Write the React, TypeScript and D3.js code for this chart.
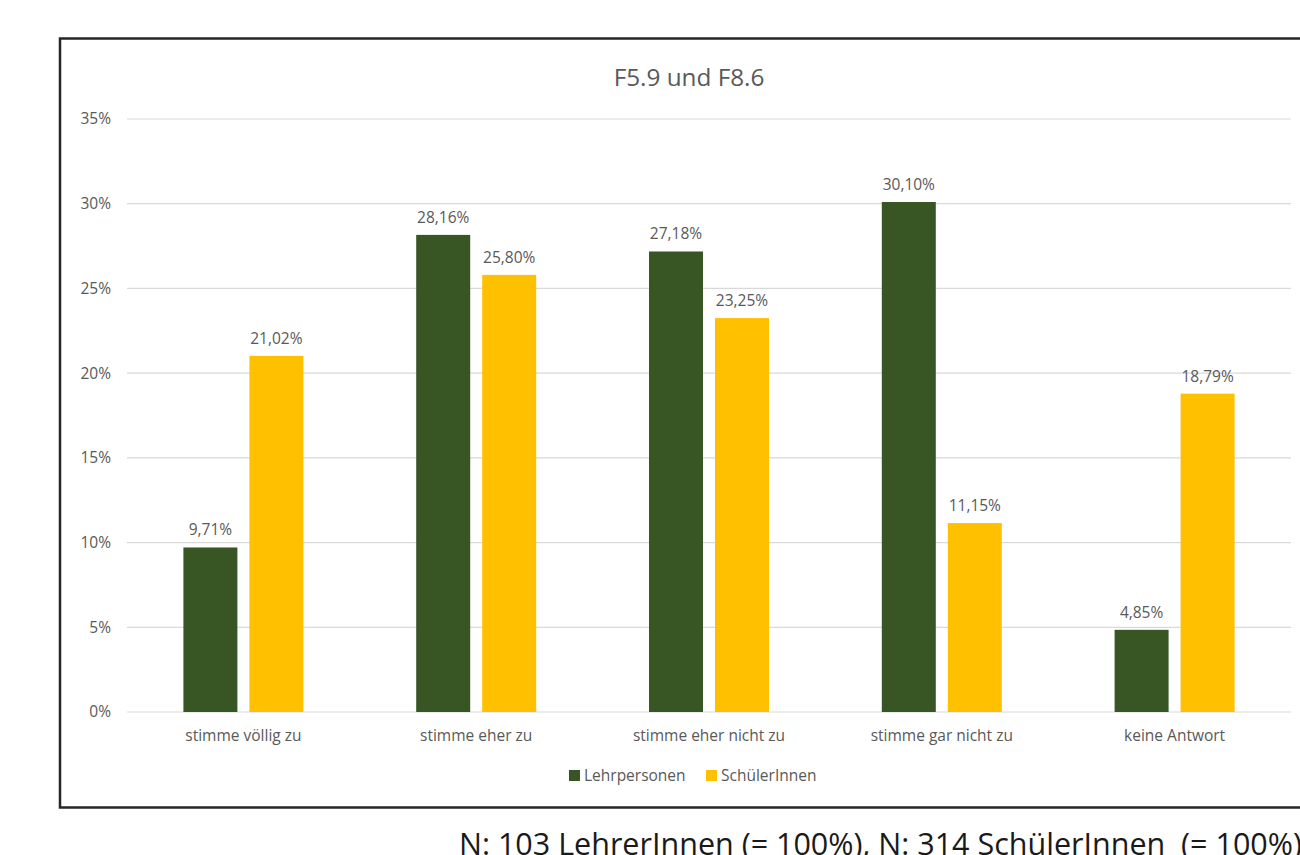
import React from "react";
import * as d3 from "d3";

const categories = [
  "stimme völlig zu",
  "stimme eher zu",
  "stimme eher nicht zu",
  "stimme gar nicht zu",
  "keine Antwort",
];
const seriesNames = ["Lehrpersonen", "SchülerInnen"];
const lehrpersonen = [9.71, 28.16, 27.18, 30.1, 4.85];
const schuelerInnen = [21.02, 25.8, 23.25, 11.15, 18.79];
const yTicks = [0, 5, 10, 15, 20, 25, 30, 35];
const colors = ["#375623", "#FFC000"];
const title = "F5.9 und F8.6";
const footnote = "N: 103 LehrerInnen (= 100%), N: 314 SchülerInnen  (= 100%)";

const W = 1300;
const H = 855;
const plotLeft = 127;
const plotRight = 1291;
const plotTop = 119;
const plotBottom = 712;
const font = "'Open Sans', 'Segoe UI', sans-serif";
const textColor = "#595959";

const fmt = (v: number) => v.toFixed(2).replace(".", ",") + "%";

export default function App() {
  const x0 = d3
    .scaleBand<string>()
    .domain(categories)
    .range([plotLeft, plotRight])
    .paddingInner(0)
    .paddingOuter(0);
  const y = d3.scaleLinear().domain([0, 35]).range([plotBottom, plotTop]);
  const barW = 54;
  const gap = 12;
  const series = [lehrpersonen, schuelerInnen];
  const offsets = [-(barW + gap) / 2, (barW + gap) / 2];

  return (
    <svg
      width={W}
      height={H}
      style={{ position: "absolute", left: 0, top: 0, background: "#fff" }}
      fontFamily={font}
    >
      {/* chart frame, open on the right edge */}
      <rect x={60} y={38.5} width={1300} height={769} fill="none" stroke="#262626" strokeWidth={2.5} />

      <text x={689} y={86} textAnchor="middle" fontSize={24.3} fill={textColor}>
        {title}
      </text>

      {yTicks.map((t) => (
        <g key={t}>
          <line x1={plotLeft} x2={plotRight} y1={y(t)} y2={y(t)} stroke="#d9d9d9" strokeWidth={1.2} />
          <text x={111} y={y(t)} dy="0.35em" textAnchor="end" fontSize={15.5} fill={textColor}>
            {t}%
          </text>
        </g>
      ))}

      {categories.map((c, i) => {
        const cx = x0(c)! + x0.bandwidth() / 2;
        return (
          <g key={c}>
            {series.map((s, k) => {
              const bx = cx + offsets[k] - barW / 2;
              return (
                <g key={k}>
                  <rect x={bx} y={y(s[i])} width={barW} height={plotBottom - y(s[i])} fill={colors[k]} />
                  <text
                    x={bx + barW / 2}
                    y={y(s[i]) - 12}
                    textAnchor="middle"
                    fontSize={15.5}
                    fill={textColor}
                  >
                    {fmt(s[i])}
                  </text>
                </g>
              );
            })}
            <text x={cx} y={741} textAnchor="middle" fontSize={15.5} fill={textColor}>
              {c}
            </text>
          </g>
        );
      })}

      {/* legend */}
      <g>
        <rect x={569} y={770} width={11} height={11} fill={colors[0]} />
        <text x={584} y={781} fontSize={15.5} fill={textColor}>
          {seriesNames[0]}
        </text>
        <rect x={706} y={770} width={11} height={11} fill={colors[1]} />
        <text x={721} y={781} fontSize={15.5} fill={textColor}>
          {seriesNames[1]}
        </text>
      </g>

      <text x={459} y={855} fontSize={30.5} fill="#1a1a1a" style={{ whiteSpace: "pre" }}>
        {footnote}
      </text>
    </svg>
  );
}
